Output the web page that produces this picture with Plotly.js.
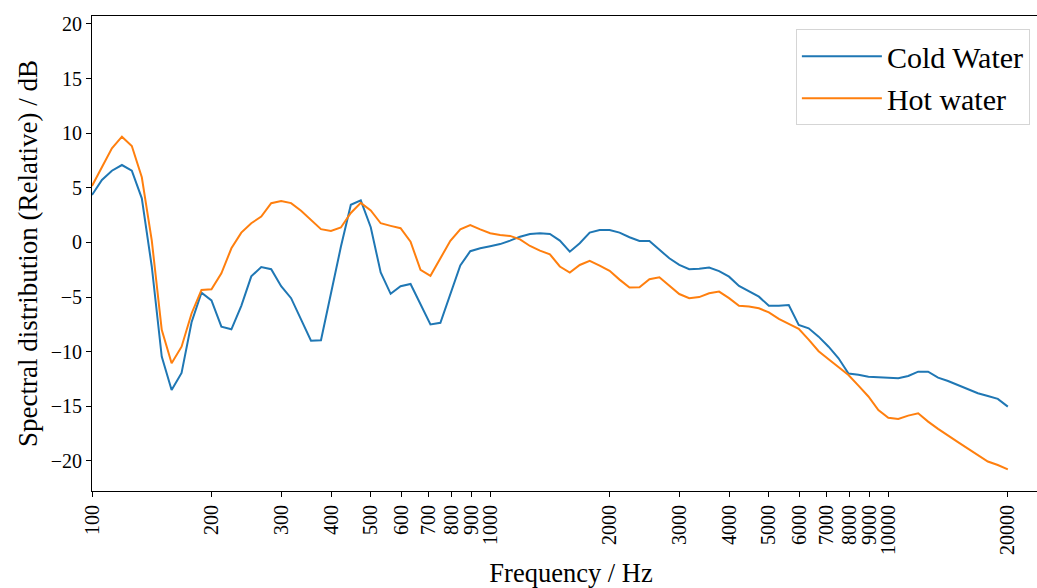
<!DOCTYPE html>
<html>
<head>
<meta charset="utf-8">
<script src="https://cdn.plot.ly/plotly-3.0.1.min.js"></script>
<style>
  html, body { margin: 0; padding: 0; background: #ffffff; overflow: hidden; }
  #chart { width: 1050px; height: 588px; }
</style>
</head>
<body>
<div id="chart"></div>
<script>
// Frequencies (Hz), log-spaced from 100 Hz to 20 kHz
const frequency = [
  100, 105.9, 112.2, 118.9, 125.9, 133.4, 141.3, 149.7, 158.5, 167.9,
  177.9, 188.4, 199.6, 211.4, 224.0, 237.2, 251.3, 266.2, 282.0, 298.7,
  316.4, 335.2, 355.0, 376.1, 398.4, 422.0, 447.0, 473.5, 501.6, 531.3,
  562.8, 596.1, 631.5, 668.9, 708.5, 750.5, 795.0, 842.1, 892.0, 944.9,
  1001.0, 1060.3, 1123.2, 1189.8, 1260.3, 1335.0, 1414.1, 1497.9, 1586.7, 1680.7,
  1780.3, 1885.8, 1997.6, 2116.0, 2241.4, 2374.3, 2515.0, 2664.1, 2822.0, 2989.2,
  3166.4, 3354.1, 3552.9, 3763.6, 3986.6, 4222.9, 4473.2, 4738.4, 5019.3, 5316.8,
  5632.0, 5965.8, 6319.4, 6694.0, 7090.8, 7511.1, 7956.3, 8427.9, 8927.5, 9456.7,
  10017, 10611, 11240, 11906, 12612, 13359, 14151, 14990, 15879, 16820,
  17817, 18873, 20000
];

// Cold water spectrum (dB, relative)
const coldWater = [
  4.35, 5.72, 6.57, 7.09, 6.57, 4.04, -2.2, -10.45, -13.5, -11.95,
  -7.3, -4.6, -5.3, -7.7, -7.95, -5.8, -3.1, -2.25, -2.45,
  -4.0, -5.1, -7.0, -9.0, -8.95, -4.7, -0.4, 3.45, 3.85, 1.4,
  -2.75, -4.7, -4.0, -3.8, -5.7, -7.5, -7.35, -4.7, -2.1, -0.8,
  -0.53, -0.35, -0.15, 0.17, 0.53, 0.78, 0.84, 0.78, 0.17, -0.84,
  -0.07, 0.9, 1.14, 1.14, 0.9, 0.48, 0.14, 0.14, -0.62, -1.45,
  -2.05, -2.45, -2.4, -2.3, -2.62, -3.13, -3.98, -4.44, -4.96, -5.8, -5.8,
  -5.72, -7.55, -7.86, -8.62, -9.54, -10.6, -12.0, -12.1, -12.3, -12.34,
  -12.37, -12.43, -12.22, -11.83, -11.83, -12.37, -12.68, -13.04, -13.41, -13.8,
  -14.05, -14.32, -15.03
];

// Hot water spectrum (dB, relative)
const hotWater = [
  5.17, 6.94, 8.62, 9.68, 8.83, 5.97, 0.2, -8.0, -11.06, -9.54,
  -6.5, -4.35, -4.28, -2.82, -0.53, 0.9, 1.76, 2.37, 3.59,
  3.8, 3.6, 2.9, 2.1, 1.22, 1.06, 1.37, 2.7, 3.62, 2.93,
  1.76, 1.52, 1.3, 0.07, -2.5, -3.05, -1.45, 0.15, 1.2, 1.6,
  1.2, 0.84, 0.69, 0.6, 0.29, -0.32, -0.75, -1.08, -2.2, -2.76,
  -2.06, -1.69, -2.12, -2.6, -3.4, -4.13, -4.1, -3.37, -3.19, -4.0,
  -4.72, -5.1, -5.0, -4.65, -4.5, -5.1, -5.8, -5.87, -6.03, -6.4, -7.0,
  -7.46, -7.9, -8.9, -9.95, -10.69, -11.43, -12.13, -13.1, -14.1, -15.35,
  -16.05, -16.16, -15.85, -15.64, -16.4, -17.06, -17.7, -18.28, -18.87, -19.5,
  -20.05, -20.37, -20.77
];

const xTickVals = [100, 200, 300, 400, 500, 600, 700, 800, 900, 1000,
  2000, 3000, 4000, 5000, 6000, 7000, 8000, 9000, 10000, 20000];
const xTickText = ['100', '200', '300', '400', '500', '600', '700', '800', '900', '1000',
  '2000', '3000', '4000', '5000', '6000', '7000', '8000', '9000', '10000', '20000'];
const yTickVals = [-20, -15, -10, -5, 0, 5, 10, 15, 20];

const serif = 'Liberation Serif, Times New Roman, serif';

const traces = [
  {
    x: frequency, y: coldWater, name: 'Cold Water', type: 'scatter', mode: 'lines',
    line: { color: '#1f77b4', width: 2 }
  },
  {
    x: frequency, y: hotWater, name: 'Hot water', type: 'scatter', mode: 'lines',
    line: { color: '#ff7f0e', width: 2 }
  }
];

const layout = {
  width: 1050, height: 588,
  margin: { l: 92, r: 0, t: 16, b: 97 },
  paper_bgcolor: '#ffffff', plot_bgcolor: '#ffffff',
  font: { family: serif, color: '#000000' },
  showlegend: true,
  legend: {
    x: 0.979, xanchor: 'right', y: 0.972, yanchor: 'top',
    itemwidth: 80,
    bgcolor: '#ffffff', bordercolor: '#d5d5d5', borderwidth: 1,
    font: { family: serif, size: 30, color: '#000000' }
  },
  xaxis: {
    type: 'log', range: [2, 4.407],
    tickvals: xTickVals, ticktext: xTickText, tickangle: -90,
    ticks: 'outside', ticklen: 5, tickwidth: 1, tickcolor: '#000000',
    showline: true, linecolor: '#000000', linewidth: 1, mirror: true,
    showgrid: false, zeroline: false,
    tickfont: { family: serif, size: 20, color: '#000000' },
    title: { text: 'Frequency / Hz', font: { family: serif, size: 26.5, color: '#000000' }, standoff: 14 }
  },
  yaxis: {
    range: [-22.75, 20.73], tickvals: yTickVals,
    ticks: 'outside', ticklen: 5, tickwidth: 1, tickcolor: '#000000',
    showline: true, linecolor: '#000000', linewidth: 1, mirror: true,
    showgrid: false, zeroline: false,
    tickfont: { family: serif, size: 20, color: '#000000' },
    title: { text: 'Spectral distribution (Relative) / dB', font: { family: serif, size: 27, color: '#000000' }, standoff: 5 }
  }
};

Plotly.newPlot('chart', traces, layout, { displayModeBar: false, staticPlot: true });
</script>
</body>
</html>
